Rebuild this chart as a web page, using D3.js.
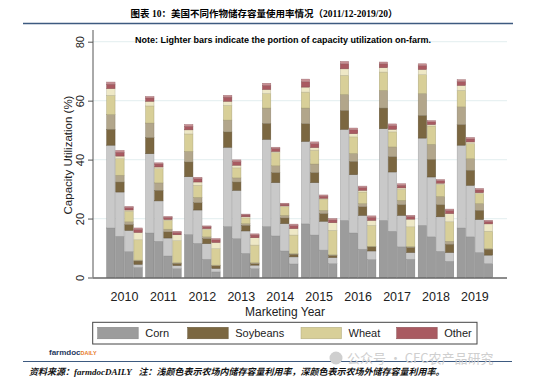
<!DOCTYPE html>
<html>
<head>
<meta charset="utf-8">
<script src="https://cdn.jsdelivr.net/npm/d3@7"></script>
<style>
  body { margin: 0; background: #fff; }
  svg { display: block; }
</style>
</head>
<body>
<svg id="chart" width="550" height="386"></svg>
<script>
// marketing years, four bars (quarters) per year
const years = [2010, 2011, 2012, 2013, 2014, 2015, 2016, 2017, 2018, 2019];
const quarters = [0, 1, 2, 3];
const yTicks = [0, 20, 40, 60, 80];

// capacity utilization (%) by segment, one value per bar, year by year
const cornOff  = [16.8,14.0,8.8,3.4, 15.1,12.3,7.3,3.0, 14.6,11.6,6.2,1.9, 17.3,13.2,8.2,3.0, 17.3,14.1,9.0,4.6, 18.2,14.4,9.3,4.7, 19.4,15.1,9.6,6.1, 19.4,15.7,10.4,6.2, 17.7,13.8,8.9,5.5, 16.8,13.8,8.5,4.7];
const cornOn   = [28.1,15.0,7.2,1.1, 26.9,13.7,6.1,1.1, 19.6,11.3,5.3,1.2, 26.9,16.4,7.6,1.2, 29.6,18.1,9.3,2.4, 28.0,17.8,9.8,2.1, 30.9,19.8,11.5,2.9, 31.1,20.1,10.7,2.3, 29.6,20.3,11.7,3.0, 28.1,17.5,11.2,2.9];
const soyOff   = [5.4,3.4,2.0,1.1, 5.5,3.6,2.1,0.7, 5.0,2.5,1.7,0.9, 5.2,2.8,1.9,0.5, 5.4,3.4,1.9,0.9, 6.0,3.4,2.6,0.7, 6.4,4.5,2.9,1.4, 7.0,5.2,3.6,1.7, 7.7,6.0,4.1,2.8, 7.0,5.1,3.1,2.0];
const soyOn    = [5.0,2.3,0.9,0.3, 4.9,2.5,0.9,0.2, 3.6,1.8,0.6,0.2, 4.0,1.4,0.6,0.3, 5.2,2.3,0.9,0.2, 5.3,2.9,1.1,0.2, 5.4,2.7,1.1,0.2, 6.0,3.3,1.5,0.3, 7.4,5.1,2.8,1.0, 6.0,3.9,2.3,0.2];
const wheatOff = [6.5,5.6,3.6,6.9, 5.8,4.8,3.0,7.5, 5.9,4.1,2.5,5.6, 5.0,3.4,1.9,6.0, 4.9,4.5,2.9,6.3, 5.4,4.7,3.8,8.3, 6.5,5.6,3.9,7.1, 6.2,5.1,3.7,6.7, 6.4,6.2,4.1,6.6, 5.6,5.1,3.4,5.9];
const wheatOn  = [2.3,0.9,0.4,2.5, 1.6,0.6,0.3,2.0, 1.4,1.1,0.3,2.1, 1.4,0.9,0.4,2.5, 1.4,0.4,0.3,2.2, 1.7,0.9,0.3,2.6, 2.2,1.1,0.6,1.7, 1.5,0.9,0.5,2.6, 1.8,0.5,0.4,2.8, 1.7,0.6,0.3,2.5];
const otherOff = [1.5,1.3,0.8,1.0, 1.1,1.0,0.7,0.8, 1.2,1.1,0.6,0.9, 1.4,1.2,0.6,0.9, 1.4,1.0,0.6,1.0, 1.8,1.3,0.7,0.9, 1.7,1.3,0.9,1.0, 1.3,1.2,0.9,0.9, 1.3,0.9,0.8,1.0, 1.3,1.0,0.9,0.8];
const otherOn  = [0.7,0.6,0.4,0.5, 0.5,0.4,0.3,0.4, 0.6,0.5,0.3,0.4, 0.6,0.6,0.3,0.4, 0.7,0.4,0.3,0.5, 0.9,0.6,0.4,0.5, 0.8,0.6,0.5,0.5, 0.6,0.6,0.5,0.4, 0.6,0.4,0.4,0.5, 0.6,0.5,0.5,0.4];

const legendNames = ['Corn', 'Soybeans', 'Wheat', 'Other'];

const keys = ['cornOff','cornOn','soyOff','soyOn','wheatOff','wheatOn','otherOff','otherOn'];
const colors = {
  cornOff: '#9c9c9c', cornOn: '#c9c9c9',
  soyOff: '#7b6741', soyOn: '#b2a68b',
  wheatOff: '#d8cf98', wheatOn: '#eee8c6',
  otherOff: '#a95a61', otherOn: '#c98f93'
};
const legendColors = ['#9c9c9c', '#7b6741', '#d8cf98', '#a95a61'];

const series = {cornOff, cornOn, soyOff, soyOn, wheatOff, wheatOn, otherOff, otherOn};
const rows = d3.range(years.length * quarters.length).map(i => {
  const r = {year: years[Math.floor(i / 4)], q: i % 4};
  keys.forEach(k => r[k] = series[k][i]);
  return r;
});

const svg = d3.select('#chart');
const sans = 'Liberation Sans, Arial, sans-serif';

// header
svg.append('text')
  .attr('x', 264).attr('y', 17)
  .attr('text-anchor', 'middle')
  .style('font-family', 'Liberation Serif, Noto Sans CJK SC, serif')
  .style('font-weight', 'bold')
  .style('font-size', '9.5px')
  .text('图表 10：美国不同作物储存容量使用率情况（2011/12-2019/20）');

svg.append('line')
  .attr('x1', 23).attr('x2', 513).attr('y1', 23.5).attr('y2', 23.5)
  .attr('stroke', '#3d5a80').attr('stroke-width', 1.6);

const y = d3.scaleLinear().domain([0, 80]).range([277.5, 41.7]);
const x0 = d3.scaleBand().domain(years).range([105, 494.4]).paddingInner(0.087).paddingOuter(0.0435);
const x1 = d3.scaleBand().domain(quarters).range([0, x0.bandwidth()]).paddingInner(0.08);

const plotL = 93, plotR = 507;

// grid
svg.append('g').selectAll('line')
  .data(yTicks.filter(d => d > 0))
  .join('line')
  .attr('x1', plotL).attr('x2', plotR)
  .attr('y1', d => y(d)).attr('y2', d => y(d))
  .attr('stroke', '#e8f1f2').attr('stroke-width', 1.2);

svg.append('text')
  .attr('x', 283).attr('y', 43)
  .attr('text-anchor', 'middle')
  .style('font-family', sans).style('font-weight', 'bold').style('font-size', '9px')
  .text('Note: Lighter bars indicate the portion of capacity utilization on-farm.');

// bars
const stacked = d3.stack().keys(keys)(rows);
svg.append('g').selectAll('g')
  .data(stacked)
  .join('g')
  .attr('fill', d => colors[d.key])
  .attr('stroke', d => d3.color(colors[d.key]).darker(0.6))
  .attr('stroke-width', 0.5)
  .selectAll('rect')
  .data(d => d)
  .join('rect')
  .attr('x', d => x0(d.data.year) + x1(d.data.q))
  .attr('width', x1.bandwidth())
  .attr('y', d => y(d[1]))
  .attr('height', d => Math.max(0, y(d[0]) - y(d[1])));

// y axis
const yAxis = svg.append('g').attr('transform', `translate(${plotL},0)`)
  .call(d3.axisLeft(y).tickValues(yTicks).tickSize(5).tickSizeOuter(0));
yAxis.select('.domain').attr('d', `M0,30V${y(0)}`).attr('stroke', '#555');
yAxis.selectAll('.tick line').attr('stroke', '#555');
yAxis.selectAll('.tick text')
  .attr('x', 0).attr('y', 0).attr('dy', null)
  .attr('text-anchor', 'middle')
  .attr('transform', 'translate(-9,0) rotate(-90)')
  .style('font-family', sans).style('font-size', '11px').attr('fill', '#222');

svg.append('text')
  .attr('transform', 'translate(72,155) rotate(-90)')
  .attr('text-anchor', 'middle')
  .style('font-family', sans).style('font-size', '11.5px').attr('fill', '#222')
  .text('Capacity Utilization (%)');

// x axis
svg.append('line')
  .attr('x1', plotL).attr('x2', plotR).attr('y1', y(0) + 0.5).attr('y2', y(0) + 0.5)
  .attr('stroke', '#666').attr('stroke-width', 1.6);

svg.append('g').selectAll('text')
  .data(years)
  .join('text')
  .attr('x', d => x0(d) + x0.bandwidth() / 2)
  .attr('y', 301)
  .attr('text-anchor', 'middle')
  .style('font-family', sans).style('font-size', '12.5px').attr('fill', '#222')
  .text(d => d);

svg.append('text')
  .attr('x', 285).attr('y', 315.5)
  .attr('text-anchor', 'middle')
  .style('font-family', sans).style('font-size', '12px').attr('fill', '#222')
  .text('Marketing Year');

// legend
svg.append('rect')
  .attr('x', 92.7).attr('y', 322.3).attr('width', 384.3).attr('height', 21.7)
  .attr('fill', '#fff').attr('stroke', '#444').attr('stroke-width', 1);

const legX = [97.7, 187.7, 301, 396.7];
const leg = svg.append('g').selectAll('g')
  .data(legendNames)
  .join('g')
  .attr('transform', (d, i) => `translate(${legX[i]},327.3)`);
leg.append('rect')
  .attr('width', 40.5).attr('height', 11.5)
  .attr('fill', (d, i) => legendColors[i])
  .attr('stroke', (d, i) => d3.color(legendColors[i]).darker(0.6)).attr('stroke-width', 0.5);
leg.append('text')
  .attr('x', 47.5).attr('y', 10)
  .style('font-family', sans).style('font-size', '11px').attr('fill', '#222')
  .text(d => d);

// logo
const logo = svg.append('text').attr('x', 49).attr('y', 354.5)
  .style('font-family', sans).style('font-weight', 'bold');
logo.append('tspan').style('font-size', '8px').attr('fill', '#1f3a5f').text('farmdoc');
logo.append('tspan').style('font-size', '5.5px').attr('fill', '#e8791f').text('DAILY');

// footer
svg.append('line')
  .attr('x1', 23).attr('x2', 512).attr('y1', 361.5).attr('y2', 361.5)
  .attr('stroke', '#3d5a80').attr('stroke-width', 1.2);

const wm = svg.append('g').attr('fill', '#cfcfcf');
wm.append('circle').attr('cx', 336).attr('cy', 358).attr('r', 6.5);
wm.append('text')
  .attr('x', 347).attr('y', 363)
  .style('font-family', 'Noto Sans CJK SC, sans-serif').style('font-size', '13px')
  .text('公众号 · CFC农产品研究');

svg.append('text')
  .attr('x', 29).attr('y', 375)
  .style('font-family', 'Liberation Serif, Noto Sans CJK SC, serif')
  .style('font-weight', 'bold').style('font-style', 'italic').style('font-size', '9px')
  .attr('fill', '#111')
  .text('资料来源：farmdocDAILY\u00a0\u00a0\u00a0注：浅颜色表示农场内储存容量利用率，深颜色表示农场外储存容量利用率。');
</script>
</body>
</html>
